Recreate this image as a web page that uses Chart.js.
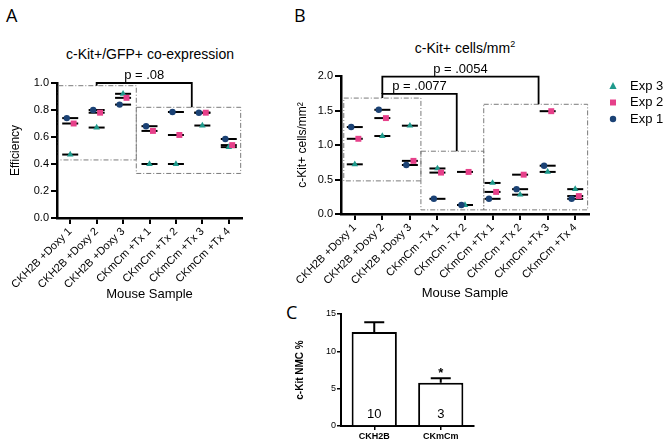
<!DOCTYPE html>
<html>
<head>
<meta charset="utf-8">
<script src="https://cdn.jsdelivr.net/npm/chart.js@4.4.0/dist/chart.umd.min.js"></script>
<style>
  body { margin: 0; background: #fff; width: 663px; height: 446px; position: relative; overflow: hidden;
         font-family: "Liberation Sans", Arial, sans-serif; color: #000; }
  canvas { position: absolute; }
  .letter { position: absolute; font-family: "Open Sans", sans-serif; font-size: 18px; line-height: 1; }
  .ttl { position: absolute; font-size: 14px; transform: translateX(-50%); white-space: nowrap; line-height: 1; }
</style>
</head>
<body>
<div class="letter" style="left:6px;top:6px">A</div>
<div class="letter" style="left:294px;top:6px">B</div>
<div class="letter" style="left:286px;top:303px">C</div>
<div class="ttl" style="left:150px;top:47px">c-Kit+/GFP+ co-expression</div>
<div class="ttl" style="left:465px;top:40px">c-Kit+ cells/mm<sup style="font-size:9px">2</sup></div>

<canvas id="chartA" width="330" height="306" style="left:0;top:0"></canvas>
<canvas id="chartB" width="378" height="305" style="left:285px;top:0"></canvas>
<canvas id="chartC" width="200" height="146" style="left:280px;top:300px"></canvas>

<script>
// panel A: c-Kit+/GFP+ co-expression efficiency
const samplesA = ['CKH2B +Doxy 1', 'CKH2B +Doxy 2', 'CKH2B +Doxy 3', 'CKmCm +Tx 1', 'CKmCm +Tx 2', 'CKmCm +Tx 3', 'CKmCm +Tx 4'];
const effExp1 = [0.74, 0.80, 0.84, 0.68, 0.785, 0.78, 0.585];
const effExp2 = [0.70, 0.78, 0.89, 0.645, 0.615, 0.78, 0.54];
const effExp3 = [0.47, 0.67, 0.92, 0.40, 0.40, 0.685, 0.525];

// panel B: c-Kit+ cells per mm2
const samplesB = ['CKH2B +Doxy 1', 'CKH2B +Doxy 2', 'CKH2B +Doxy 3', 'CKmCm -Tx 1', 'CKmCm -Tx 2', 'CKmCm +Tx 1', 'CKmCm +Tx 2', 'CKmCm +Tx 3', 'CKmCm +Tx 4'];
const densExp1 = [1.26, 1.51, 0.71, 0.22, 0.13, 0.22, 0.36, 0.70, 0.22];
const densExp2 = [1.09, 1.39, 0.77, 0.60, 0.61, 0.32, 0.57, 1.49, 0.26];
const densExp3 = [0.72, 1.13, 1.28, 0.66, 0.13, 0.45, 0.28, 0.61, 0.36];

// panel C: c-Kit NMC %
const groupsC = ['CKH2B', 'CKmCm'];
const nmcMean = [12.6, 5.8];
const nmcSem = [1.3, 0.6];
const nmcN = ['10', '3'];

const TEAL = '#1f9a8c', PINK = '#e6408a', NAVY = '#1b4275';
const exps = [
  { name: 'Exp 1', style: 'circle', color: NAVY, r: 3.2, dx: -0.13 },
  { name: 'Exp 2', style: 'rect', color: PINK, r: 4.2, dx: 0.13 },
  { name: 'Exp 3', style: 'triangle', color: TEAL, r: 3.8, dx: 0 }
];

// dash-dot group boxes and p-value brackets, in data units
const annot = {
  id: 'annot',
  beforeDatasetsDraw(chart, args, opts) {
    const { ctx } = chart;
    const x = chart.scales.x, y = chart.scales.y;
    ctx.save();
    ctx.strokeStyle = '#7a7a7a';
    ctx.lineWidth = 1;
    ctx.setLineDash([5, 2, 1, 2]);
    (opts.boxes || []).forEach(b => {
      const x0 = x.getPixelForValue(b[0]), x1 = x.getPixelForValue(b[1]);
      const y0 = y.getPixelForValue(b[2]), y1 = y.getPixelForValue(b[3]);
      ctx.strokeRect(x0, y1, x1 - x0, y0 - y1);
    });
    ctx.setLineDash([]);
    ctx.strokeStyle = '#000';
    ctx.lineWidth = 1.8;
    ctx.fillStyle = '#000';
    ctx.font = '13px "Liberation Sans", Arial, sans-serif';
    ctx.textAlign = 'center';
    ctx.textBaseline = 'bottom';
    (opts.brackets || []).forEach(b => {
      const xl = x.getPixelForValue(b.from), xr = x.getPixelForValue(b.to);
      const yt = y.getPixelForValue(b.top);
      ctx.beginPath();
      ctx.moveTo(xl, y.getPixelForValue(b.leftEnd));
      ctx.lineTo(xl, yt);
      ctx.lineTo(xr, yt);
      ctx.lineTo(xr, y.getPixelForValue(b.rightEnd));
      ctx.stroke();
      ctx.fillText(b.text, (xl + xr) / 2, yt - 1);
    });
    ctx.restore();
  }
};

function scatterSets(series) {
  const sets = [];
  series.forEach((vals, k) => {
    const e = exps[k];
    sets.push({
      label: e.name,
      data: vals.map((v, i) => ({ x: i + e.dx, y: v })),
      pointStyle: e.style, pointRadius: e.r, pointHoverRadius: e.r,
      backgroundColor: e.color, borderColor: e.color, borderWidth: 0
    });
  });
  series.forEach((vals, k) => {
    sets.push({
      label: exps[k].name + ' mean',
      data: vals.map((v, i) => ({ x: i, y: v })),
      pointStyle: 'line', pointRadius: 8, pointHoverRadius: 8,
      borderColor: '#000', borderWidth: 2
    });
  });
  return sets;
}

const axisLine = { color: '#000', width: 2.5 };
const tickMarks = { drawOnChartArea: false, color: '#000', lineWidth: 2, tickLength: 6 };

function scatterChart(id, labels, series, opt) {
  return new Chart(document.getElementById(id), {
    type: 'scatter',
    data: { datasets: scatterSets(series) },
    options: {
      responsive: false, animation: false,
      layout: { padding: opt.padding },
      plugins: { legend: { display: false }, tooltip: { enabled: false }, annot: opt.annot },
      scales: {
        x: {
          type: 'linear', min: -0.5, max: labels.length - 0.5,
          afterBuildTicks: s => { s.ticks = labels.map((_, i) => ({ value: i })); },
          afterFit: s => { s.height = opt.xHeight; },
          ticks: { callback: v => labels[v], autoSkip: false, minRotation: 45, maxRotation: 45,
                   font: { size: 11 }, color: '#000', padding: 1 },
          grid: tickMarks, border: axisLine,
          title: { display: true, text: 'Mouse Sample', font: { size: 13 }, color: '#000', padding: { top: 2, bottom: 4 } }
        },
        y: {
          min: 0, max: opt.yMax,
          afterFit: s => { s.width = opt.yWidth; },
          ticks: { stepSize: opt.yStep, callback: v => v.toFixed(1), font: { size: 11 }, color: '#000', padding: 2 },
          grid: tickMarks, border: axisLine,
          title: { display: true, text: opt.yTitle, font: { size: 12 }, color: '#000', padding: { top: opt.yTitlePad, bottom: 0 } }
        }
      }
    },
    plugins: [annot].concat(opt.extra || [])
  });
}

scatterChart('chartA', samplesA, [effExp1, effExp2, effExp3], {
  padding: { top: 83, right: 88, left: 0, bottom: 0 },
  xHeight: 88, yWidth: 57, yMax: 1.0, yStep: 0.2, yTitle: 'Efficiency', yTitlePad: 8,
  annot: {
    boxes: [[-0.45, 2.5, 0.43, 0.98], [2.5, 6.45, 0.33, 0.82]],
    brackets: [{ from: 1, to: 4.6, top: 1.0, leftEnd: 0.98, rightEnd: 0.82, text: 'p = .08' }]
  }
});

const legendB = {
  id: 'legendB',
  afterDraw(chart) {
    const { ctx } = chart;
    ctx.save();
    ctx.font = '13px "Liberation Sans", Arial, sans-serif';
    ctx.textBaseline = 'middle';
    const order = [2, 1, 0];
    order.forEach((k, j) => {
      const e = exps[k];
      const cx = 328, cy = 86 + j * 16.5;
      ctx.fillStyle = e.color;
      ctx.beginPath();
      if (e.style === 'circle') ctx.arc(cx, cy, 3.2, 0, Math.PI * 2);
      else if (e.style === 'rect') ctx.rect(cx - 3, cy - 3, 6, 6);
      else { ctx.moveTo(cx, cy - 4); ctx.lineTo(cx + 3.6, cy + 3); ctx.lineTo(cx - 3.6, cy + 3); ctx.closePath(); }
      ctx.fill();
      ctx.fillStyle = '#000';
      ctx.fillText(e.name, 345, cy);
    });
    ctx.restore();
  }
};

scatterChart('chartB', samplesB, [densExp1, densExp2, densExp3], {
  padding: { top: 76, right: 74, left: 0, bottom: 0 },
  xHeight: 91, yWidth: 56, yMax: 2.0, yStep: 0.5, yTitle: 'c-Kit+ cells/mm\u00B2', yTitlePad: 10,
  annot: {
    boxes: [[-0.4, 2.4, 0.48, 1.68], [2.4, 4.68, 0.06, 0.91], [4.68, 8.45, 0.06, 1.59]],
    brackets: [
      { from: 1, to: 3.7, top: 1.74, leftEnd: 1.68, rightEnd: 0.91, text: 'p = .0077' },
      { from: 1, to: 6.67, top: 1.99, leftEnd: 1.74, rightEnd: 1.59, text: 'p = .0054' }
    ]
  },
  extra: [legendB]
});

// error bars, n labels and significance star for panel C
const barExtras = {
  id: 'barExtras',
  afterDatasetsDraw(chart) {
    const { ctx } = chart;
    const y = chart.scales.y;
    const bars = chart.getDatasetMeta(0).data;
    ctx.save();
    ctx.strokeStyle = '#000';
    ctx.lineWidth = 2;
    bars.forEach((bar, i) => {
      const yTop = y.getPixelForValue(nmcMean[i] + nmcSem[i]);
      ctx.beginPath();
      ctx.moveTo(bar.x, bar.y);
      ctx.lineTo(bar.x, yTop);
      ctx.moveTo(bar.x - 10, yTop);
      ctx.lineTo(bar.x + 10, yTop);
      ctx.stroke();
      ctx.fillStyle = '#000';
      ctx.textAlign = 'center';
      ctx.textBaseline = 'middle';
      ctx.font = '13px "Liberation Sans", Arial, sans-serif';
      ctx.fillText(nmcN[i], bar.x, y.getPixelForValue(0) - 12);
      if (i === 1) {
        ctx.font = 'bold 13px "Liberation Sans", Arial, sans-serif';
        ctx.fillText('*', bar.x, yTop - 5);
      }
    });
    ctx.restore();
  }
};

new Chart(document.getElementById('chartC'), {
  type: 'bar',
  data: {
    labels: groupsC,
    datasets: [{ data: nmcMean, backgroundColor: '#fff', borderColor: '#000', borderWidth: 2,
                 barPercentage: 0.68, categoryPercentage: 1 }]
  },
  options: {
    responsive: false, animation: false,
    layout: { padding: { top: 14, right: 6, left: 0, bottom: 0 } },
    plugins: { legend: { display: false }, tooltip: { enabled: false } },
    scales: {
      x: {
        afterFit: s => { s.height = 20; },
        ticks: { font: { size: 9, weight: 'bold' }, color: '#000', padding: 1 },
        grid: { offset: false, drawOnChartArea: false, color: '#000', lineWidth: 1.5, tickLength: 4 },
        border: { color: '#000', width: 2 }
      },
      y: {
        min: 0, max: 15,
        afterFit: s => { s.width = 61; },
        ticks: { stepSize: 5, font: { size: 9 }, color: '#000', padding: 1 },
        grid: { drawOnChartArea: false, color: '#000', lineWidth: 1.5, tickLength: 4 },
        border: { color: '#000', width: 2 },
        title: { display: true, text: 'c-Kit NMC %', font: { size: 10, weight: 'bold' }, color: '#000', padding: { top: 14, bottom: 0 } }
      }
    }
  },
  plugins: [barExtras]
});
</script>
</body>
</html>
